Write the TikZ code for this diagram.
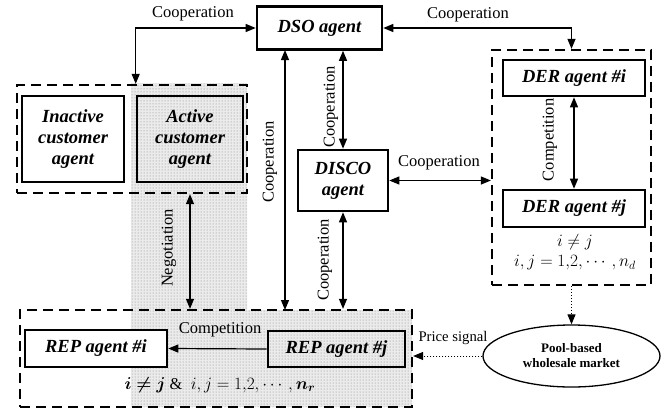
\documentclass[tikz,border=0pt]{standalone}
\usepackage{amsmath,bm}
\usepackage{fontspec}
\setmainfont{Liberation Serif}
\usetikzlibrary{arrows.meta,shapes.geometric,patterns}
\begin{document}
\begin{tikzpicture}[x=1pt,y=-1pt,
  agentbox/.style={draw,line width=2.6pt,fill=white,align=center,inner sep=0pt,
    font=\fontsize{18.5}{21}\selectfont\bfseries\itshape},
  groupbox/.style={draw,line width=2.3pt,dash pattern=on 10pt off 6pt,inner sep=0pt},
  lbl/.style={font=\fontsize{16.5}{19}\selectfont,inner sep=0pt},
  arr/.style={line width=1.2pt,{Triangle[length=10pt,width=8pt]}-{Triangle[length=10pt,width=8pt]}},
  onearr/.style={line width=1.2pt,-{Triangle[length=10pt,width=8pt]}},
  dotarr/.style={line width=1pt,dotted,-{Triangle[length=10pt,width=8pt]}},
  shade/.style={fill=black!8,pattern=dots,pattern color=black!45}]
\useasboundingbox (0,0) rectangle (670,413);
% shaded region
\fill[black!8] (131,83) -- (247,83) -- (247,310) -- (412,310) -- (412,407) -- (131,407) -- cycle;
\fill[pattern=dots,pattern color=black!50] (131,83) -- (247,83) -- (247,310) -- (412,310) -- (412,407) -- (131,407) -- cycle;
% groups
\node[groupbox,minimum width=230pt,minimum height=108pt] (cust) at (132,139) {};
\node[groupbox,minimum width=159pt,minimum height=235pt] (der) at (571.5,167.5) {};
\node[groupbox,minimum width=392pt,minimum height=97pt] (rep) at (216,358.5) {};
% agents
\node[agentbox,minimum width=125pt,minimum height=43pt] (dso) at (319.5,28) {DSO agent};
\node[agentbox,minimum width=102pt,minimum height=86pt] (inactive) at (73,139) {Inactive\\customer\\agent};
\node[agentbox,fill=none,minimum width=106pt,minimum height=86pt] (active) at (190,139) {Active\\customer\\agent};
\node[agentbox,minimum width=90pt,minimum height=61pt] (disco) at (343,180.5) {DISCO\\agent};
\node[agentbox,minimum width=142pt,minimum height=36pt] (deri) at (574,78) {DER agent \#i};
\node[agentbox,minimum width=142pt,minimum height=37pt] (derj) at (574,208.5) {DER agent \#j};
\node[agentbox,minimum width=142pt,minimum height=37pt] (repi) at (96,348.5) {REP agent \#i};
\node[agentbox,fill=none,minimum width=137pt,minimum height=36pt] (repj) at (336.5,349) {REP agent \#j};
\node[draw,ellipse,line width=1.3pt,fill=white,minimum width=177pt,minimum height=62pt,inner sep=0pt,
  align=center,font=\fontsize{13}{15}\selectfont\bfseries] (market) at (571.5,356) {Pool-based\\wholesale market};
% connectors
\coordinate (cooptop) at (active.north west |- cust.north);
\draw[arr] (dso.west) -| (cooptop);
\draw[arr] (dso.east) -| (der.north);
\coordinate (longtop) at (285,50);
\coordinate (longbot) at (285,310);
\draw[arr] (longtop) -- (longbot);
\draw[arr] (dso.south -| disco.north) -- (disco.north);
\draw[arr] (disco.south) -- (disco.south |- rep.north);
\draw[arr] (disco.east) -- (disco.east -| der.west);
\draw[arr] (active.south |- cust.south) -- (active.south |- rep.north);
\draw[arr] (deri.south) -- (derj.north);
\draw[onearr] (repj.west) -- (repi.east);
\draw[dotarr] (der.south) -- (market.north);
\draw[dotarr] (market.west) -- (market.west -| rep.east);
% labels
\node[lbl] (l1) at (193,14) {Cooperation};
\node[lbl] (l2) at (468,15) {Cooperation};
\node[lbl,rotate=90] (l3) at (331,107) {Cooperation};
\node[lbl,rotate=90] (l4) at (270,162) {Cooperation};
\node[lbl,rotate=90] (l5) at (169,248) {Negotiation};
\node[lbl,rotate=90] (l6) at (325,260) {Cooperation};
\node[lbl] (l7) at (439,163) {Cooperation};
\node[lbl,rotate=90] (l8) at (550,140) {Competition};
\node[lbl] (l9) at (220,330) {Competition};
\node[lbl,font=\fontsize{14.7}{17}\selectfont] (l10) at (453,338) {Price signal};
\node[lbl] (m1) at (575,242) {$i\neq j$};
\node[lbl] (m2) at (575,263) {$i,j=1{,}2,\cdots,n_d$};
\node[lbl] (m3) at (220,385) {$\bm{i\neq j}$ \& \ $i,j=1{,}2,\cdots,\bm{n_r}$};
\end{tikzpicture}
\end{document}
